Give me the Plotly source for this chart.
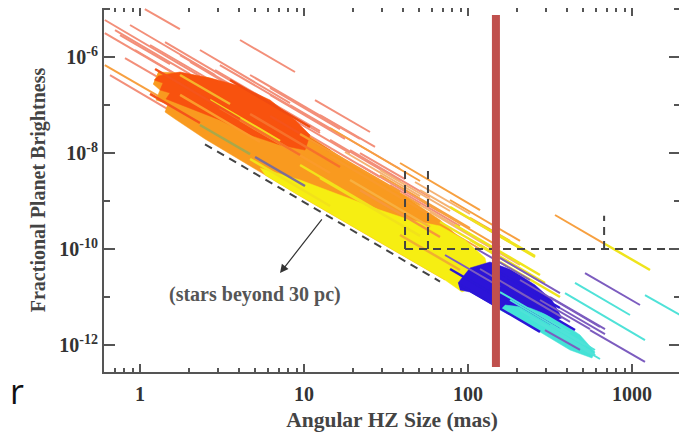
import numpy as np
import plotly.graph_objects as go

# ---------------- data (angular HZ size in mas, fractional planet brightness) -------------
# each segment: (inner HZ size, outer HZ size, brightness at inner edge, brightness at outer edge)
salmon_segments = [
    (1.07, 1.75, 1.0e-5, 3.8e-6), (0.61, 2.32, 5.9e-6, 4.0e-7), (0.61, 1.635, 3.16e-6, 4.4e-7),
    (0.656, 2.32, 4.2e-7, 3.3e-8), (0.755, 1.524, 2.87e-6, 7.1e-7), (0.869, 2.87, 4.64e-6, 4.22e-7),
    (1.151, 5.39, 1.78e-6, 8.25e-8), (1.42, 4.37, 2.05e-6, 2.15e-7), (1.754, 9.46, 1.10e-6, 3.83e-8),
    (2.32, 8.22, 1.40e-6, 1.10e-7), (4.07, 8.81, 2.26e-6, 4.87e-7), (11.67, 25.26, 1.27e-7, 2.74e-8),
    (12.52, 27.1, 6.19e-8, 1.34e-8), (21.95, 41.3, 9.96e-9, 2.87e-9), (3.07, 14.41, 6.81e-7, 3.16e-8),
    (4.69, 21.95, 4.22e-7, 1.96e-8), (6.21, 17.78, 1.62e-7, 1.96e-8), (8.22, 38.5, 1.0e-7, 4.64e-9),
    (19.08, 58.7, 1.15e-8, 1.21e-9), (0.704, 2.02, 3.65e-6, 4.42e-7), (0.932, 3.54, 1.40e-6, 9.53e-8),
    (2.02, 7.14, 7.87e-7, 6.19e-8), (2.87, 12.52, 5.36e-7, 2.87e-8), (6.21, 16.58, 2.26e-7, 3.16e-8),
    (0.81, 1.635, 9.53e-7, 2.37e-7), (14.41, 38.5, 1.87e-8, 2.61e-9), (21.95, 67.5, 5.62e-9, 5.9e-10),
    (33.46, 89.4, 2.15e-9, 3.01e-10), (9.46, 29.07, 3.01e-8, 3.16e-9), (7.14, 19.08, 7.15e-8, 9.96e-9),
    (5.39, 12.52, 1.40e-7, 2.61e-8), (9.46, 21.95, 1.87e-8, 3.48e-9),
]
orange_segments = [
    (0.61, 1.32, 6.8e-7, 1.47e-7), (14.41, 51.0, 3.32e-8, 2.61e-9), (38.5, 118.4, 6.19e-9, 6.49e-10),
    (29.07, 102.8, 3.48e-9, 2.74e-10), (77.7, 207.6, 1.05e-9, 1.47e-10), (339.3, 684.6, 5.11e-10, 1.27e-10),
    (51.0, 156.7, 1.05e-9, 1.10e-10), (16.58, 51.0, 7.86e-9, 8.25e-10), (44.3, 118.4, 7.15e-10, 1.0e-10),
    (102.8, 180.4, 4.43e-10, 1.47e-10),
]
light_orange_segments = [
    (51.0, 222.7, 1.69e-9, 9.08e-11), (58.7, 207.6, 5.9e-10, 4.64e-11), (41.3, 102.8, 1.27e-9, 2.05e-10),
    (17.78, 51.0, 1.05e-8, 1.27e-9), (29.07, 77.7, 4.42e-9, 6.19e-10), (47.5, 102.8, 2.49e-9, 5.36e-10),
]
yellow_segments = [
    (77.7, 256.2, 7.5e-10, 6.82e-11), (684.6, 1288, 1.27e-10, 3.65e-11), (156.7, 363.9, 5.36e-11, 1.0e-11),
    (83.3, 274.8, 3.16e-10, 2.87e-11), (118.4, 294.8, 1.21e-10, 1.96e-11), (67.5, 136.2, 3.65e-10, 9.08e-11),
    (136.2, 256.2, 2.49e-10, 7.15e-11), (102.8, 274.8, 1.54e-10, 2.15e-11),
]
purple_segments = [
    (517, 1119, 3.16e-11, 6.81e-12), (554.6, 1200, 2.05e-12, 4.43e-13), (316.2, 684.6, 1.0e-11, 2.15e-12),
    (363.9, 684.6, 5.9e-12, 1.69e-12), (110.3, 238.8, 1.05e-10, 2.26e-11), (156.7, 363.9, 6.5e-11, 1.21e-11),
    (207.6, 638.2, 2.26e-11, 2.37e-12), (274.8, 554.6, 8.66e-12, 2.15e-12), (294.8, 481.9, 2.05e-12, 7.87e-13),
    (72.4, 156.7, 7.5e-11, 1.62e-11), (118.4, 418.8, 3.83e-11, 3.02e-12),
]
cyan_segments = [
    (449.2, 972, 1.96e-11, 4.22e-12), (390.4, 1200, 1.21e-11, 1.27e-12), (1200, 1962, 1.10e-11, 4.22e-12),
    (180.4, 594.9, 8.66e-12, 7.87e-13), (207.6, 554.6, 5.36e-12, 7.5e-13), (238.8, 638.2, 3.65e-12, 5.11e-13),
    (274.8, 594.9, 2.87e-12, 6.19e-13), (156.7, 418.8, 1.27e-11, 1.78e-12), (316.2, 517, 2.61e-12, 1.0e-12),
    (339.3, 594.9, 1.87e-12, 6.19e-13),
]
blue_segments = [
    (89.4, 274.8, 1.78e-11, 1.87e-12), (102.8, 238.8, 3.65e-11, 6.81e-12),
    (118.4, 316.2, 4.02e-11, 5.62e-12), (136.2, 363.9, 1.54e-11, 2.15e-12),
    (77.7, 180.4, 3.83e-11, 7.15e-12), (156.7, 449.2, 1.70e-11, 2.05e-12), (146.1, 363.9, 3.65e-11, 5.9e-12),
]
# segments drawn inside the dense band (x0, x1, y0, y1, colour)
texture_segments = [
    (5.03, 10.14, 8.25e-9, 2.05e-9, "#7d6e96"), (2.32, 4.69, 3.83e-8, 9.49e-9, "#a9a84a"),
    (2.67, 7.14, 1.27e-7, 1.78e-8, "#f4d81e"), (1.754, 5.39, 1.62e-7, 1.70e-8, "#fb9b2a"),
    (4.07, 14.41, 4.87e-8, 3.83e-9, "#fb9b2a"), (9.46, 29.07, 5.62e-9, 5.9e-10, "#f2e21a"),
    (12.52, 51.0, 3.01e-9, 1.87e-10, "#f2e21a"), (19.08, 58.7, 2.74e-9, 2.87e-10, "#f8b040"),
    (3.07, 9.46, 8.66e-8, 9.08e-9, "#f7712a"), (21.95, 67.5, 1.69e-9, 1.78e-10, "#f7983a"),
    (38.5, 89.4, 1.96e-10, 3.65e-11, "#f0b030"), (3.54, 10.88, 3.32e-7, 3.48e-8, "#f04a10"),
    (1.754, 3.54, 4.22e-7, 1.05e-7, "#f5b52a"),
    (6.21, 14.41, 5.9e-8, 1.10e-8, "#f5541a"), (1.151, 2.32, 1.70e-7, 4.22e-8, "#f5541a"),
    (1.235, 4.07, 5.62e-7, 5.11e-8, "#f5541a"), (4.69, 16.58, 6.49e-8, 5.11e-9, "#f7712a"),
    (9.46, 38.5, 2.49e-8, 1.54e-9, "#f99a2a"), (14.41, 58.7, 8.66e-9, 5.11e-10, "#f99a2a"),
    (4.69, 14.41, 7.5e-9, 7.86e-10, "#f2e21a"),
]
# dense regions of overlapping segments (outline in data units)
orange_band_x = [1.288, 1.754, 2.67, 4.69, 9.46, 19.08, 38.5, 67.5, 91.9, 72.4, 38.5, 19.08, 9.46, 4.69, 2.49,
                 1.635, 1.42, 1.48, 1.252, 1.324, 1.20]
orange_band_y = [4.87e-7, 4.64e-7, 3.65e-7, 1.87e-7, 3.01e-8, 6.19e-9, 1.47e-9, 4.02e-10, 1.54e-10, 2.26e-11,
                 7.86e-11, 3.16e-10, 1.27e-9, 5.36e-9, 1.96e-8, 5.11e-8, 7.15e-8, 1.05e-7, 1.27e-7, 2.05e-7, 2.74e-7]
red_band_x = [1.288, 1.754, 2.67, 4.07, 6.21, 8.81, 10.88, 10.14, 7.14, 4.69, 3.07, 2.165, 1.635,
              1.44, 1.524, 1.324, 1.38, 1.217]
red_band_y = [4.02e-7, 4.87e-7, 3.65e-7, 2.49e-7, 1.27e-7, 4.87e-8, 2.37e-8, 1.15e-8, 1.47e-8, 2.37e-8, 4.87e-8,
              7.87e-8, 1.15e-7, 1.34e-7, 1.78e-7, 2.05e-7, 2.87e-7, 3.32e-7]
yellow_band_x = [5.39, 9.46, 16.58, 29.07, 44.3, 67.5, 95.9, 127, 136.2, 91.9, 72.4, 38.5, 19.08, 9.46, 5.78]
yellow_band_y = [4.87e-9, 2.74e-9, 1.33e-9, 6.49e-10, 4.02e-10, 3.01e-10, 1.54e-10, 6.5e-11, 2.26e-11, 1.27e-11, 2.26e-11, 7.86e-11, 3.16e-10, 1.27e-9, 3.48e-9]
blue_band_x = [86.9, 102.8, 136.2, 185.5, 256.2, 325, 374, 307.5, 207.6, 146.1, 102.8, 89.4]
blue_band_y = [1.96e-11, 4.02e-11, 5.36e-11, 3.65e-11, 1.78e-11, 8.66e-12, 3.65e-12, 3.02e-12, 4.22e-12, 6.49e-12, 1.27e-11, 1.40e-11]
cyan_band_x = [168.1, 238.8, 339.3, 481.9, 594.9, 570, 418.8, 294.8, 207.6, 156.7]
cyan_band_y = [6.81e-12, 5.9e-12, 3.65e-12, 1.62e-12, 7.15e-13, 5.36e-13, 7.87e-13, 1.62e-12, 3.32e-12, 5.36e-12]

# limit lines
envelope_x = [2.49, 67.5]
envelope_y = [1.52e-8, 2.1e-11]
limit_level = 1e-10
limit_x = [41.3, 1962]
box_left_x = [41.3, 57.0]
box_top_y = 5.6e-9
far_limit_x = 676
far_limit_top = 4.9e-10
hz_bar_x = 148
hz_bar_y = [7.5e-6, 3.5e-13]

x_tick_vals = [1, 10, 100, 1000]
x_tick_text = ["1", "10", "100", "1000"]
y_tick_vals = [1e-12, 1e-10, 1e-8, 1e-6]
y_tick_text = ["10<sup>-12</sup>", "10<sup>-10</sup>", "10<sup>-8</sup>", "10<sup>-6</sup>"]
y_minor_vals = [1e-13, 1e-11, 1e-9, 1e-7, 1e-5]
x_minor_vals = [d * 10.0 ** k for k in range(-1, 4) for d in range(2, 10)]

# ---------------- figure ----------------
fig = go.Figure()


def add_segments(segs, color, width, opacity=1.0):
    xs, ys = [], []
    for x0, x1, y0, y1 in segs:
        xs += [x0, x1, None]
        ys += [y0, y1, None]
    fig.add_trace(go.Scatter(x=xs, y=ys, mode="lines", opacity=opacity,
                             line=dict(color=color, width=width), hoverinfo="skip"))


def add_band(xs, ys, color):
    fig.add_trace(go.Scatter(x=xs, y=ys, mode="lines", fill="toself", fillcolor=color,
                             line=dict(width=0.5, color=color), hoverinfo="skip"))


add_segments(salmon_segments, "#f2836b", 2, 0.9)
add_segments(light_orange_segments, "#f5b274", 2)
add_segments(orange_segments, "#f7a040", 2)

add_band(orange_band_x, orange_band_y, "#f99a1f")
add_band(red_band_x, red_band_y, "#f8520e")
add_band(yellow_band_x, yellow_band_y, "#f6ee12")
add_band(blue_band_x, blue_band_y, "#2c14d8")
add_band(cyan_band_x, cyan_band_y, "#44e2d6")

for x0, x1, y0, y1, c in texture_segments:
    add_segments([(x0, x1, y0, y1)], c, 2.5)

add_segments(yellow_segments, "#efe41c", 2.5)
add_segments(blue_segments, "#2b15d6", 2.5)
add_segments(cyan_segments, "#4fe2d8", 2)
add_segments(purple_segments, "#7c5cbf", 2)

dash_style = dict(color="#444444", width=2, dash="8px,6px")
fig.add_trace(go.Scatter(x=envelope_x, y=envelope_y, mode="lines", line=dash_style, hoverinfo="skip"))
fig.add_trace(go.Scatter(x=limit_x, y=[limit_level, limit_level], mode="lines", line=dash_style, hoverinfo="skip"))
for bx in box_left_x:
    fig.add_trace(go.Scatter(x=[bx, bx], y=[limit_level, box_top_y], mode="lines", line=dash_style, hoverinfo="skip"))
fig.add_trace(go.Scatter(x=[far_limit_x, far_limit_x], y=[limit_level, far_limit_top], mode="lines",
                         line=dash_style, hoverinfo="skip"))

fig.add_trace(go.Scatter(x=[hz_bar_x, hz_bar_x], y=hz_bar_y, mode="lines",
                         line=dict(color="#c0504d", width=8), hoverinfo="skip"))

serif = "Liberation Serif"
fig.add_annotation(x=np.log10(7.14), y=np.log10(3.16e-11), ax=np.log10(13.06), ay=np.log10(4.43e-10),
                   xref="x", yref="y", axref="x", ayref="y", text="", showarrow=True,
                   arrowhead=2, arrowsize=1.4, arrowwidth=1.2, arrowcolor="#333333")
fig.add_annotation(x=np.log10(5.0), y=np.log10(1.15e-11), xref="x", yref="y", text="(stars beyond 30 pc)",
                   showarrow=False, font=dict(family=serif, size=20, color="#555555", weight="bold"))
fig.add_annotation(x=-0.166, y=-0.12, xref="paper", yref="paper", text="r", showarrow=False,
                   font=dict(family="Open Sans", size=34, color="#111111"))

axis_common = dict(showline=True, linecolor="#555555", linewidth=2, mirror="ticks", ticks="inside",
                   tickcolor="#555555", tickwidth=1.5, showgrid=False, zeroline=False, automargin=False)
fig.update_xaxes(type="log", range=[np.log10(0.603), np.log10(1962)], tickmode="array",
                 tickvals=x_tick_vals, ticktext=x_tick_text, ticklen=8, ticklabelstandoff=3,
                 tickfont=dict(family=serif, size=20, color="#333333", weight="bold"),
                 minor=dict(ticks="inside", ticklen=4, tickcolor="#555555", tickmode="array", tickvals=x_minor_vals),
                 title=dict(text="Angular HZ Size (mas)", standoff=12,
                            font=dict(family=serif, size=21.5, color="#444444", weight="bold")),
                 **axis_common)
fig.update_yaxes(type="log", range=[-12.5625, -4.979], tickmode="array",
                 tickvals=y_tick_vals, ticktext=y_tick_text, ticklen=11,
                 tickfont=dict(family=serif, size=20, color="#333333", weight="bold"),
                 minor=dict(ticks="inside", ticklen=6, tickcolor="#555555", tickmode="array", tickvals=y_minor_vals),
                 title=dict(text="Fractional Planet Brightness", standoff=8,
                            font=dict(family=serif, size=20, color="#444444", weight="bold")),
                 **axis_common)
# the page adds an 8px body margin, so the figure is sized to fit inside the window
fig.update_layout(width=679, height=424, margin=dict(l=96, r=7, t=0, b=60),
                  paper_bgcolor="white", plot_bgcolor="white", showlegend=False)

fig.write_html("out.html")
